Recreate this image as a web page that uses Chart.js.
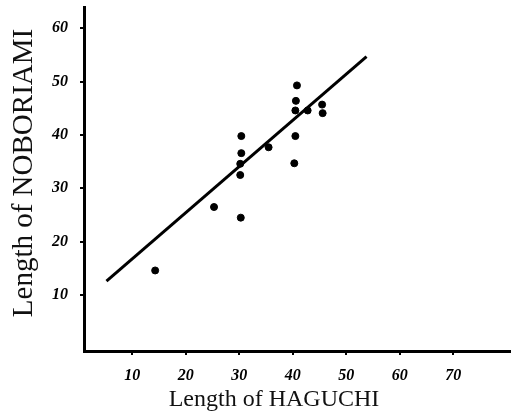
<!DOCTYPE html>
<html><head><meta charset="utf-8">
<script src="https://cdn.jsdelivr.net/npm/chart.js@4/dist/chart.umd.min.js"></script>
<style>html,body{margin:0;padding:0;background:#fff}#wrap{width:511px;height:418px}</style>
</head><body>
<div id="wrap"><canvas id="c" width="511" height="418"></canvas></div>
<script>
const haguchi   = [14.3, 25.3, 30.3, 30.2, 30.2, 30.4, 30.4, 35.5, 40.3, 40.5, 40.5, 40.6, 40.8, 42.8, 45.5, 45.6];
const noboriami = [14.6, 26.5, 24.5, 32.5, 34.6, 36.6, 39.8, 37.7, 34.7, 39.8, 44.6, 46.4, 49.3, 44.6, 45.7, 44.1];
const fitX = [5.2, 53.8];
const fitY = [12.6, 54.7];
const xTicks = [10, 20, 30, 40, 50, 60, 70];
const yTicks = [10, 20, 30, 40, 50, 60];
const xTitle = 'Length of HAGUCHI';
const yTitle = 'Length of NOBORIAMI';

const tickFont = {family: '"Liberation Serif", serif', style: 'italic', weight: 'bold', size: 16};

const titlePlugin = {
  id: 'axisTitles',
  afterDraw(chart) {
    const ctx = chart.ctx, ca = chart.chartArea;
    ctx.save();
    ctx.fillStyle = '#111';
    ctx.textAlign = 'center';
    ctx.textBaseline = 'middle';
    ctx.font = '24px "Liberation Serif", serif';
    ctx.fillText(xTitle, 274, ca.bottom + 49);
    ctx.translate(24, ca.top + 166);
    ctx.rotate(-Math.PI / 2);
    ctx.font = '29px "Liberation Serif", serif';
    ctx.fillText(yTitle, 0, 0);
    ctx.restore();
  }
};

function zeroPad(s) { s.paddingTop = 0; s.paddingBottom = 0; s.paddingLeft = 0; s.paddingRight = 0; }

new Chart(document.getElementById('c'), {
  type: 'scatter',
  data: {
    datasets: [
      {
        type: 'scatter',
        data: haguchi.map((x, i) => ({x: x, y: noboriami[i]})),
        backgroundColor: '#000', borderColor: '#000',
        pointRadius: 3.5, pointHoverRadius: 3.5
      },
      {
        type: 'line',
        data: fitX.map((x, i) => ({x: x, y: fitY[i]})),
        borderColor: '#000', borderWidth: 3, pointRadius: 0, fill: false, tension: 0
      }
    ]
  },
  options: {
    responsive: false,
    animation: false,
    layout: {autoPadding: false, padding: {top: 7, right: 0, left: 0, bottom: 0}},
    plugins: {legend: {display: false}, tooltip: {enabled: false}},
    scales: {
      x: {
        type: 'linear', min: 1, max: 80.8,
        afterBuildTicks(s) { s.ticks = xTicks.map(v => ({value: v})); },
        afterFit(s) { s.height = 67; zeroPad(s); },
        grid: {drawOnChartArea: false, drawTicks: true, tickLength: 4, color: '#000', lineWidth: 2},
        border: {display: true, color: '#000', width: 3},
        ticks: {color: '#000', padding: 11, font: tickFont, maxRotation: 0, autoSkip: false}
      },
      y: {
        type: 'linear', min: -0.5, max: 64,
        afterBuildTicks(s) { s.ticks = yTicks.map(v => ({value: v})); },
        afterFit(s) { s.width = 84; zeroPad(s); },
        grid: {drawOnChartArea: false, drawTicks: true, tickLength: 4, color: '#000', lineWidth: 2},
        border: {display: true, color: '#000', width: 3},
        ticks: {color: '#000', padding: 12, font: tickFont, autoSkip: false}
      }
    }
  },
  plugins: [titlePlugin]
});
</script>
</body></html>
